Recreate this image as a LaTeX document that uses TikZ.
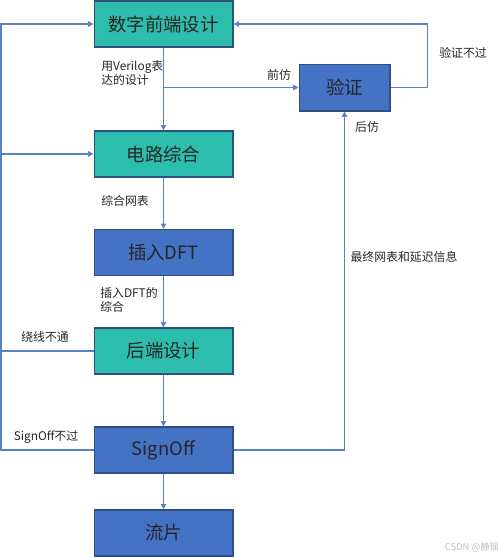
\documentclass[tikz,border=0pt]{standalone}
\usepackage{fontspec}
\setmainfont{Noto Sans CJK SC}
\usetikzlibrary{arrows.meta}
\definecolor{tealbox}{HTML}{2DBDAC}
\definecolor{bluebox}{HTML}{4472C4}
\definecolor{boxline}{HTML}{2F4F80}
\definecolor{flowline}{HTML}{5B7FC8}
\tikzset{
  stage/.style={draw=boxline,line width=1pt,fill=#1,minimum width=104pt,minimum height=34.5pt,
    inner sep=0pt,text=black!85,font=\fontsize{13.8}{16}\selectfont},
  arr/.style={flowline,line width=0.9pt,-{Triangle[length=4pt,width=4pt]}},
  link/.style={flowline,line width=0.9pt},
  note/.style={font=\fontsize{8.9}{10.5}\selectfont,text=black!85,inner sep=0pt,align=left}
}
\begin{document}
\begin{tikzpicture}[x=0.75pt,y=-0.75pt]
  \useasboundingbox (0,0) rectangle (500,557);

  % Main flow boxes
  \node[stage=tealbox] (fe) at (163.5,24) {数字前端设计};
  \node[stage=tealbox] (syn) at (163.5,154) {电路综合};
  \node[stage=bluebox] (dft) at (163.5,252.5) {插入DFT};
  \node[stage=tealbox] (be) at (163.5,351) {后端设计};
  \node[stage=bluebox] (so) at (163.5,450) {SignOff};
  \node[stage=bluebox] (tape) at (163.5,533) {流片};
  \node[stage=bluebox,minimum width=68pt,minimum height=35pt] (ver) at (344.5,87.5) {验证};

  % Return paths on the left
  \coordinate (lt) at (1,24);
  \coordinate (lb) at (1,450);
  \draw[arr] (so.west) -- (lb) -- (lt) -- (fe.west);
  \draw[link] (be.west) -- (lb |- be.west);
  \draw[arr] (lb |- syn.west) -- (syn.west);

  % Downward flow
  \draw[arr] (fe) -- (syn);
  \draw[arr] (syn) -- (dft);
  \draw[arr] (dft) -- (be);
  \draw[arr] (be) -- (so);
  \draw[arr] (so) -- (tape);

  % Verification loop
  \draw[arr] (fe.south |- ver.west) -- (ver.west);
  \draw[arr] (ver.east) -- ++(37,0) |- (fe.east);
  \draw[arr] (so.east) -| (ver.south);

  % Labels
  \node[note,anchor=north west] (lv) at (101,60.5) {用Verilog表\\达的设计};
  \node[note] (lpre) at (279,75) {前仿};
  \node[note] (lfail) at (463,53) {验证不过};
  \node[note] (lpost) at (367,127) {后仿};
  \node[note] (lnet) at (404,257) {最终网表和延迟信息};
  \node[note,anchor=west] (lsyn) at (101,201) {综合网表};
  \node[note,anchor=north west] (ldft) at (100,287.5) {插入DFT的\\综合};
  \node[note] (lroute) at (45,337) {绕线不通};
  \node[note] (lsign) at (46,437) {SignOff不过};
  \node[font=\fontsize{7}{8}\selectfont,text=black!25,inner sep=0pt] (wm) at (472,547) {CSDN @静瑶};
\end{tikzpicture}
\end{document}
